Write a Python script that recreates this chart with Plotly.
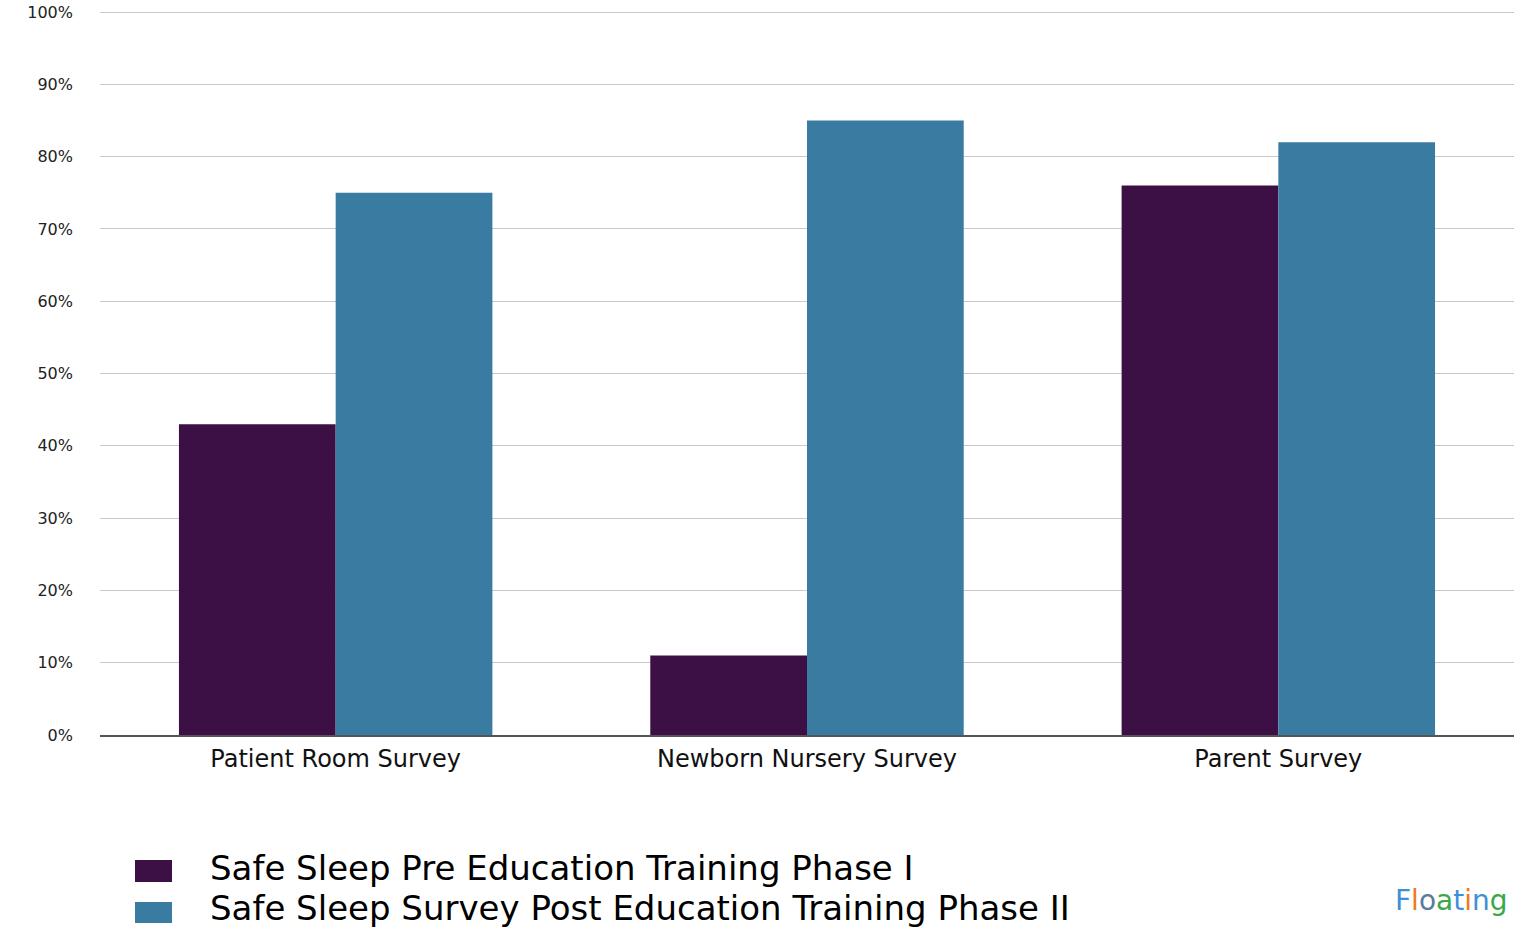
import plotly.graph_objects as go

# Survey categories and compliance percentages
categories = ["Patient Room Survey", "Newborn Nursery Survey", "Parent Survey"]
pre_values = [43, 11, 76]
post_values = [75, 85, 82]
series_names = [
    "Safe Sleep Pre Education Training Phase I",
    "Safe Sleep Survey Post Education Training Phase II",
]
tick_values = list(range(0, 101, 10))
tick_labels = [f"{v}%" for v in tick_values]

PRE_COLOR = "#3c1044"
POST_COLOR = "#3a7ca1"
FONT = "DejaVu Sans"

W, H = 1514, 928
M_L, M_R, M_T, M_B = 100, 0, 11, 193
plot_w = W - M_L - M_R
plot_h = H - M_T - M_B
Y_MAX = 100.15

fig = go.Figure()
fig.add_trace(go.Bar(x=categories, y=pre_values, name=series_names[0],
                     marker=dict(color=PRE_COLOR, line=dict(width=0)), showlegend=False))
fig.add_trace(go.Bar(x=categories, y=post_values, name=series_names[1],
                     marker=dict(color=POST_COLOR, line=dict(width=0)), showlegend=False))

fig.update_layout(
    width=W, height=H,
    margin=dict(l=M_L, r=M_R, t=M_T, b=M_B, pad=0),
    paper_bgcolor="white", plot_bgcolor="white",
    barmode="group", bargap=0.335, bargroupgap=0,
    font=dict(family=FONT, color="#111"),
)
fig.update_yaxes(
    range=[0, Y_MAX], tickvals=tick_values, ticktext=tick_labels,
    showgrid=True, gridcolor="#c9c9c9", gridwidth=1,
    zeroline=False, showline=False, ticks="",
    tickfont=dict(family=FONT, size=16, color="#222"),
    ticklabelstandoff=26,
)
fig.update_xaxes(
    showline=True, linecolor="#555", linewidth=1.5, ticks="",
    tickfont=dict(family=FONT, size=24, color="#111"),
    ticklabelstandoff=1,
)

# Legend drawn below the plot with large swatches
def px_to_paper_x(px):
    return (px - M_L) / plot_w

def px_to_paper_y(py):
    return (H - M_B - py) / plot_h

legend_rows = [
    (series_names[0], PRE_COLOR, 860, 882, 868),
    (series_names[1], POST_COLOR, 902, 923, 908),
]
for name, color, y0, y1, yc in legend_rows:
    fig.add_shape(type="rect", xref="paper", yref="paper",
                  x0=px_to_paper_x(135), x1=px_to_paper_x(172),
                  y0=px_to_paper_y(y1), y1=px_to_paper_y(y0),
                  fillcolor=color, line=dict(width=0))
    fig.add_annotation(text=name, xref="paper", yref="paper",
                       x=px_to_paper_x(208), y=px_to_paper_y(yc),
                       xanchor="left", yanchor="middle", showarrow=False,
                       font=dict(family=FONT, size=34, color="#000"))

# Watermark text in the lower right corner
wm_letters = [("F", "#3d8fd6"), ("l", "#f07a22"), ("o", "#5a7aa0"), ("a", "#3aa84a"),
              ("t", "#3d8fd6"), ("i", "#f07a22"), ("n", "#3d8fd6"), ("g", "#3aa84a")]
wm_text = "".join(f"<span style='color:{c}'>{ch}</span>" for ch, c in wm_letters)
fig.add_annotation(text=wm_text, xref="paper", yref="paper",
                   x=px_to_paper_x(1393), y=px_to_paper_y(900),
                   xanchor="left", yanchor="middle", showarrow=False,
                   font=dict(family="DejaVu Sans", size=28))

fig.write_html("out.html")
